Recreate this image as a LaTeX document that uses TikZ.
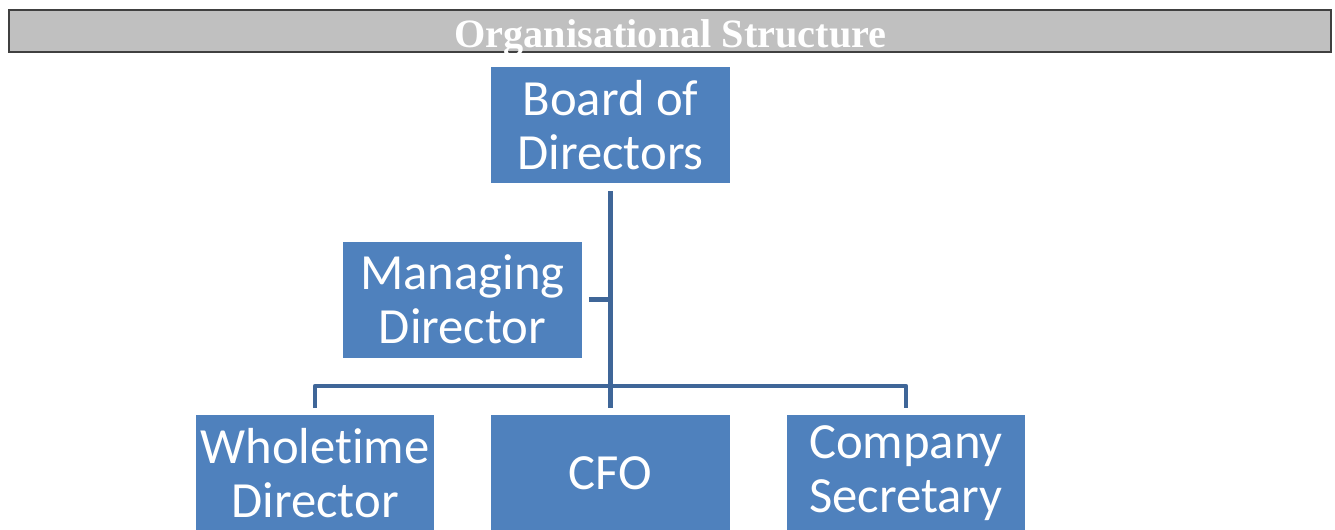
\documentclass[tikz,border=0pt]{standalone}
\usepackage{fontspec}
\setmainfont{Carlito}[Ligatures=NoCommon]
\newfontfamily\titlefont{Liberation Serif}
\usetikzlibrary{positioning,calc}

\definecolor{boxblue}{HTML}{4F81BD}
\definecolor{lineblue}{HTML}{3F6698}
\definecolor{bargray}{HTML}{C0C0C0}

\tikzset{
  orgbox/.style={fill=boxblue, text=white, minimum width=179pt, minimum height=87pt,
    inner sep=0pt, align=center, font=\fontsize{38}{40.5}\selectfont},
  conn/.style={draw=lineblue, line width=3.6pt, line join=round}
}

\begin{document}
\begin{tikzpicture}[x=0.75pt,y=-0.75pt]
		\useasboundingbox (0,0) rectangle (1335,529);
		% title bar
		\draw[fill=bargray, draw=black!75, line width=1.2pt] (9,10) rectangle (1331,52);
		\node[anchor=base, text=white, inner sep=0pt, font=\titlefont\bfseries\fontsize{30.2}{30}\selectfont] (title) at (670.5,47) {Organisational Structure};
		% boxes
		\node[orgbox] (board) at (610.5,125) {Board of\\Directors};
		\node[orgbox] (md) at (462.5,299.5) {Managing\\Director};
		\node[orgbox] (wtd) at (315,473) {Wholetime\\Director};
		\node[orgbox] (cfo) at (610.5,473) {CFO};
		\node[orgbox] (cs) at (906,473) {Company\\Secretary};
		\coordinate (bus) at (610.5,386);
		% connectors
		\draw[conn] ([yshift=-6pt]board.south) -- ([yshift=5pt]cfo.north);
		\draw[conn] ([xshift=5pt]md.east) -- (md.east -| board.south);
		\draw[conn] ([yshift=5pt]wtd.north) |- (bus) -| ([yshift=5pt]cs.north);
	\end{tikzpicture}
\end{document}
